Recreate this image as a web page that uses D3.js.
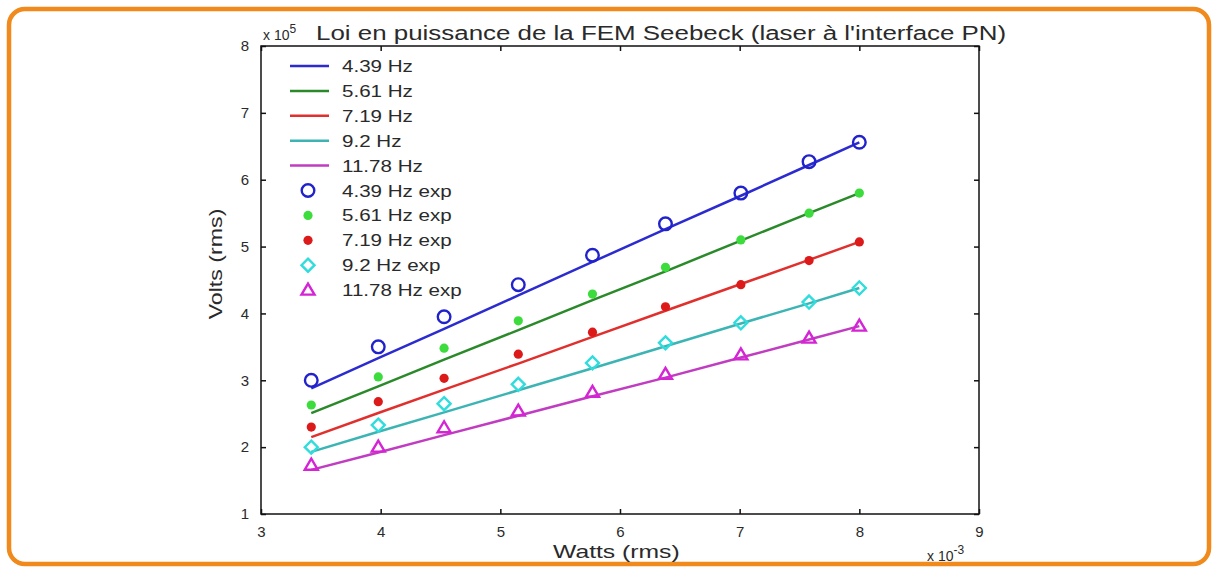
<!DOCTYPE html>
<html><head><meta charset="utf-8">
<script src="https://cdn.jsdelivr.net/npm/d3@7"></script>
<style>body{margin:0;background:#fff}svg{display:block}text{font-family:"Liberation Sans",Arial,sans-serif;fill:#2a2a2a}</style>
</head><body>
<script>
const watts = [3.42, 3.98, 4.53, 5.15, 5.77, 6.38, 7.01, 7.58, 8.0]; // x 1e-3
const freqs = ["4.39 Hz", "5.61 Hz", "7.19 Hz", "9.2 Hz", "11.78 Hz"];
const expBlue = [3.00, 3.50, 3.95, 4.43, 4.87, 5.34, 5.80, 6.27, 6.56];
const expGreen = [2.63, 3.05, 3.48, 3.89, 4.29, 4.69, 5.10, 5.50, 5.80];
const expRed = [2.30, 2.68, 3.03, 3.39, 3.72, 4.10, 4.43, 4.79, 5.07];
const expCyan = [2.00, 2.33, 2.65, 2.94, 3.26, 3.56, 3.86, 4.17, 4.38];
const expMag = [1.73, 2.00, 2.29, 2.54, 2.82, 3.09, 3.38, 3.63, 3.81];
const fitBlue = [2.88, 3.33, 3.77, 4.27, 4.77, 5.26, 5.76, 6.22, 6.56];
const fitGreen = [2.51, 2.91, 3.31, 3.75, 4.20, 4.63, 5.09, 5.50, 5.80];
const fitRed = [2.15, 2.51, 2.86, 3.25, 3.65, 4.04, 4.44, 4.80, 5.07];
const fitCyan = [1.93, 2.23, 2.52, 2.85, 3.18, 3.51, 3.85, 4.15, 4.38];
const fitMag = [1.66, 1.92, 2.18, 2.47, 2.76, 3.04, 3.34, 3.61, 3.81];
const xTicks = [3, 4, 5, 6, 7, 8, 9];
const yTicks = [1, 2, 3, 4, 5, 6, 7, 8];

const W = 1214, H = 568;
const svg = d3.select("body").append("svg").attr("width", W).attr("height", H);

function stretch(sel, k) {
  const n = sel.node();
  const len = n.getComputedTextLength();
  sel.attr("textLength", len * k).attr("lengthAdjust", "spacingAndGlyphs");
  return sel;
}

// orange frame
svg.append("rect").attr("x", 9).attr("y", 9).attr("width", 1200).attr("height", 555)
  .attr("rx", 16).attr("fill", "#fff").attr("stroke", "#f08a1c").attr("stroke-width", 4.5);

const L = 261, R = 979, T = 46, B = 514;
const x = d3.scaleLinear().domain([3, 9]).range([L, R]);
const y = d3.scaleLinear().domain([1, 8]).range([B, T]);

const lineCols = ["#2b2bd0", "#2a8a2a", "#e0302e", "#3cb4b4", "#c03cc0"];
const markCols = ["#2222cc", "#3cdc3c", "#dd1a1a", "#30dcdc", "#d424d4"];
const fits = [fitBlue, fitGreen, fitRed, fitCyan, fitMag];
const exps = [expBlue, expGreen, expRed, expCyan, expMag];

const g = svg.append("g");
g.append("rect").attr("x", L).attr("y", T).attr("width", R - L).attr("height", B - T)
  .attr("fill", "none").attr("stroke", "#111").attr("stroke-width", 1.5);

const ax = g.append("g").attr("transform", `translate(0,${B})`)
  .call(d3.axisBottom(x).tickValues(xTicks).tickSize(-5).tickPadding(12).tickFormat(d3.format("d")));
const axT = g.append("g").attr("transform", `translate(0,${T})`)
  .call(d3.axisTop(x).tickValues(xTicks).tickSize(-5).tickFormat(""));
const ay = g.append("g").attr("transform", `translate(${L},0)`)
  .call(d3.axisLeft(y).tickValues(yTicks).tickSize(-5).tickPadding(12).tickFormat(d3.format("d")));
const ayR = g.append("g").attr("transform", `translate(${R},0)`)
  .call(d3.axisRight(y).tickValues(yTicks).tickSize(-5).tickFormat(""));
[ax, axT, ay, ayR].forEach(a => {
  a.select(".domain").remove();
  a.selectAll(".tick line").attr("stroke", "#111").attr("stroke-width", 1.5);
  a.selectAll(".tick text").attr("font-size", 15).attr("font-family", "Liberation Sans, Arial, sans-serif").attr("fill", "#333");
});

const line = d3.line().x((d, i) => x(watts[i])).y(d => y(d));
fits.forEach((f, k) => {
  g.append("path").datum(f).attr("d", line).attr("fill", "none")
    .attr("stroke", lineCols[k]).attr("stroke-width", 2.5);
});

function marker(sel, k) {
  const c = markCols[k];
  if (k === 0) sel.append("circle").attr("r", 6.3).attr("fill", "none").attr("stroke", c).attr("stroke-width", 2.4);
  else if (k === 1 || k === 2) sel.append("circle").attr("r", 4.6).attr("fill", c);
  else if (k === 3) sel.append("path").attr("d", "M0,-6.5L6.5,0L0,6.5L-6.5,0Z").attr("fill", "none").attr("stroke", c).attr("stroke-width", 2.4);
  else sel.append("path").attr("d", "M0,-6.5L6.5,4.5L-6.5,4.5Z").attr("fill", "none").attr("stroke", c).attr("stroke-width", 2.4);
}
exps.forEach((e, k) => {
  e.forEach((v, i) => {
    const m = g.append("g").attr("transform", `translate(${x(watts[i])},${y(v)})`);
    marker(m, k);
  });
});

// legend
const legY0 = 66, legDy = 24.9;
freqs.forEach((f, k) => {
  const yy = legY0 + k * legDy;
  g.append("line").attr("x1", 290).attr("x2", 329).attr("y1", yy).attr("y2", yy)
    .attr("stroke", lineCols[k]).attr("stroke-width", 2.5);
  stretch(g.append("text").attr("x", 342).attr("y", yy + 6).attr("font-size", 17).text(f), 1.21);
});
freqs.forEach((f, k) => {
  const yy = legY0 + (k + 5) * legDy;
  const m = g.append("g").attr("transform", `translate(308,${yy})`);
  marker(m, k);
  stretch(g.append("text").attr("x", 342).attr("y", yy + 6).attr("font-size", 17).text(f + " exp"), 1.21);
});

// titles
const tt = svg.append("text").attr("x", 263).attr("y", 40).attr("font-size", 14);
tt.append("tspan").text("x 10");
tt.append("tspan").attr("dy", -7).attr("font-size", 12).text("5");
stretch(svg.append("text").attr("x", 316).attr("y", 40).attr("font-size", 20)
  .text("Loi en puissance de la FEM Seebeck (laser à l'interface PN)"), 1.295);
const xl = svg.append("text").attr("x", 553).attr("y", 558).attr("font-size", 19).text("Watts (rms)");
stretch(xl, 1.3);
const yl = svg.append("text").attr("transform", `translate(222,264) rotate(-90)`).attr("text-anchor", "middle")
  .attr("font-size", 19).text("Volts (rms)");
stretch(yl, 1.22);
const xe = svg.append("text").attr("x", 927).attr("y", 561).attr("font-size", 14);
xe.append("tspan").text("x 10");
xe.append("tspan").attr("dy", -7).attr("font-size", 12).text("-3");
</script>
</body></html>
